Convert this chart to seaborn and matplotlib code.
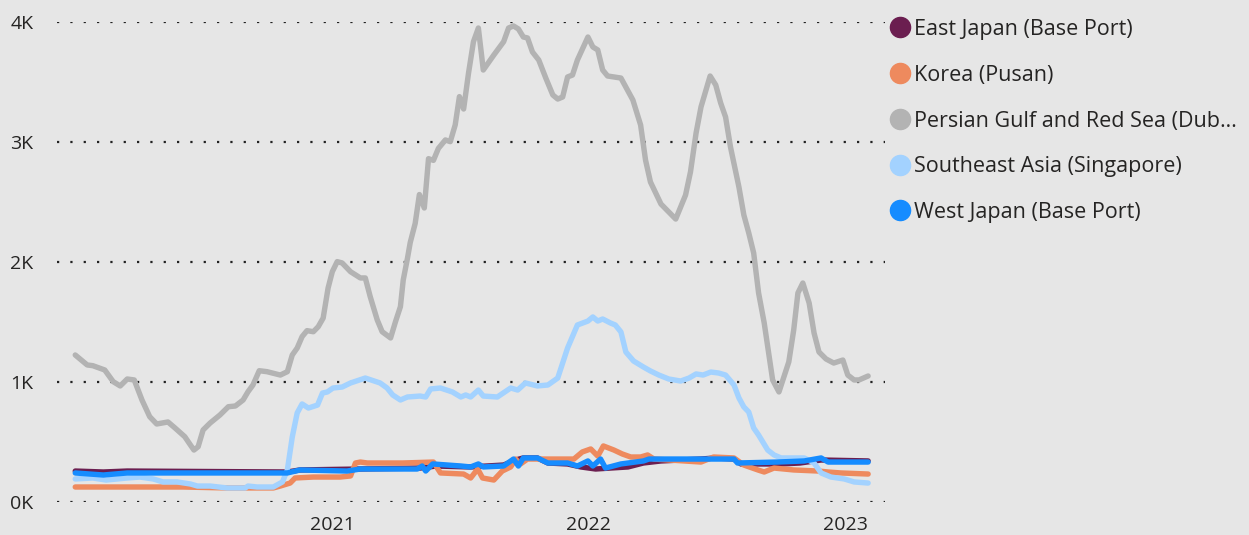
import pandas as pd
import numpy as np
import seaborn as sns
import matplotlib.pyplot as plt
from matplotlib.lines import Line2D
from matplotlib.ticker import FuncFormatter

# weekly bunker price (key points only)
east_japan_dates = ["2020-01-01", "2020-02-10", "2020-03-15", "2020-10-29", "2020-11-16", "2021-02-10",
                    "2021-05-06", "2021-05-29", "2021-07-17", "2021-09-02", "2021-09-19", "2021-09-30",
                    "2021-10-20", "2021-11-04", "2021-12-02", "2021-12-21", "2022-01-11", "2022-02-01",
                    "2022-02-26", "2022-03-20", "2022-04-14", "2022-06-10", "2022-07-01", "2022-07-27",
                    "2022-08-06", "2022-10-02", "2022-10-29", "2022-11-28", "2023-02-03"]
east_japan = [258, 250, 258, 250, 267, 275, 283, 300, 292, 308, 350, 367, 367, 325, 317, 292, 275, 283,
              292, 325, 342, 358, 367, 358, 317, 317, 325, 350, 342]

korea_dates = ["2020-01-01", "2020-06-02", "2020-08-04", "2020-10-09", "2020-10-19", "2020-11-02",
               "2020-11-09", "2020-12-05", "2021-01-12", "2021-01-27", "2021-02-03", "2021-02-10",
               "2021-02-20", "2021-04-11", "2021-05-25", "2021-06-04", "2021-07-07", "2021-07-17",
               "2021-07-27", "2021-08-03", "2021-08-19", "2021-08-31", "2021-09-12", "2021-09-19",
               "2021-09-26", "2021-10-06", "2021-12-11", "2021-12-23", "2022-01-04", "2022-01-14",
               "2022-01-22", "2022-02-06", "2022-02-18", "2022-03-02", "2022-03-16", "2022-03-26",
               "2022-04-04", "2022-06-10", "2022-06-28", "2022-07-27", "2022-08-10", "2022-08-30",
               "2022-09-08", "2022-09-22", "2022-10-20", "2022-11-24", "2022-12-08", "2022-12-26",
               "2023-02-03"]
korea = [125, 125, 117, 117, 133, 158, 200, 208, 208, 217, 325, 333, 325, 325, 333, 242, 233, 200,
         275, 200, 183, 258, 292, 358, 317, 358, 358, 417, 442, 383, 467, 433, 400, 375, 375, 392,
         358, 333, 375, 367, 308, 267, 250, 283, 267, 258, 250, 242, 233]

gulf_dates = ["2020-01-01", "2020-01-18", "2020-01-26", "2020-02-12", "2020-02-24", "2020-03-05",
              "2020-03-15", "2020-03-25", "2020-04-05", "2020-04-16", "2020-04-26", "2020-05-12",
              "2020-05-22", "2020-06-05", "2020-06-13", "2020-06-18", "2020-06-24", "2020-07-01",
              "2020-07-11", "2020-07-25", "2020-08-06", "2020-08-16", "2020-08-27", "2020-09-03",
              "2020-09-10", "2020-09-19", "2020-09-30", "2020-10-19", "2020-10-29", "2020-11-05",
              "2020-11-12", "2020-11-19", "2020-11-26", "2020-12-05", "2020-12-12", "2020-12-19",
              "2020-12-26", "2021-01-01", "2021-01-08", "2021-01-15", "2021-01-27", "2021-02-10",
              "2021-02-17", "2021-02-24", "2021-03-06", "2021-03-13", "2021-03-25", "2021-04-01",
              "2021-04-08", "2021-04-12", "2021-04-18", "2021-04-22", "2021-04-29", "2021-05-05",
              "2021-05-12", "2021-05-18", "2021-05-25", "2021-06-01", "2021-06-11", "2021-06-18",
              "2021-06-25", "2021-07-01", "2021-07-07", "2021-07-14", "2021-07-21", "2021-07-28",
              "2021-08-04", "2021-08-19", "2021-09-02", "2021-09-09", "2021-09-16", "2021-09-23",
              "2021-09-30", "2021-10-06", "2021-10-13", "2021-10-22", "2021-11-01", "2021-11-11",
              "2021-11-18", "2021-11-25", "2021-12-02", "2021-12-09", "2021-12-16", "2021-12-31",
              "2022-01-07", "2022-01-14", "2022-01-21", "2022-01-28", "2022-02-16", "2022-03-05",
              "2022-03-16", "2022-03-23", "2022-03-30", "2022-04-14", "2022-05-05", "2022-05-19",
              "2022-05-26", "2022-06-03", "2022-06-10", "2022-06-23", "2022-07-01", "2022-07-08",
              "2022-07-15", "2022-07-22", "2022-08-03", "2022-08-10", "2022-08-17", "2022-08-24",
              "2022-08-31", "2022-09-08", "2022-09-20", "2022-09-29", "2022-10-13", "2022-10-20",
              "2022-10-26", "2022-11-02", "2022-11-11", "2022-11-18", "2022-11-25", "2022-12-05",
              "2022-12-16", "2022-12-29", "2023-01-05", "2023-01-14", "2023-01-21", "2023-02-03"]
gulf = [1225, 1142, 1136, 1100, 1003, 967, 1025, 1017, 850, 711, 650, 667, 617, 544, 475, 433, 461, 600,
        658, 725, 794, 800, 850, 919, 975, 1094, 1086, 1058, 1086, 1225, 1283, 1378, 1428, 1419, 1461,
        1533, 1783, 1919, 2003, 1992, 1919, 1867, 1867, 1711, 1517, 1419, 1367, 1503, 1628, 1850, 2030,
        2163, 2321, 2562, 2450, 2861, 2847, 2946, 3017, 3003, 3142, 3378, 3275, 3575, 3836, 3950, 3600,
        3725, 3836, 3950, 3967, 3942, 3875, 3867, 3750, 3683, 3533, 3392, 3358, 3375, 3542, 3558, 3683,
        3875, 3792, 3767, 3600, 3550, 3533, 3350, 3142, 2850, 2667, 2483, 2358, 2558, 2750, 3075, 3292,
        3550, 3475, 3325, 3208, 2958, 2625, 2392, 2242, 2075, 1742, 1492, 1017, 917, 1167, 1433, 1742,
        1825, 1658, 1408, 1250, 1192, 1158, 1183, 1058, 1017, 1017, 1050]

sea_dates = ["2020-01-01", "2020-01-26", "2020-02-14", "2020-03-15", "2020-04-02", "2020-04-21",
             "2020-05-05", "2020-05-25", "2020-06-13", "2020-06-23", "2020-07-11", "2020-08-04",
             "2020-08-30", "2020-09-03", "2020-09-16", "2020-10-09", "2020-10-22", "2020-10-29",
             "2020-11-05", "2020-11-12", "2020-11-19", "2020-11-28", "2020-12-11", "2020-12-18",
             "2020-12-25", "2021-01-02", "2021-01-15", "2021-01-27", "2021-02-17", "2021-03-10",
             "2021-03-20", "2021-03-28", "2021-04-08", "2021-04-18", "2021-05-06", "2021-05-14",
             "2021-05-21", "2021-06-04", "2021-06-21", "2021-07-03", "2021-07-10", "2021-07-17",
             "2021-07-28", "2021-08-04", "2021-08-24", "2021-09-12", "2021-09-22", "2021-10-03",
             "2021-10-20", "2021-11-04", "2021-11-18", "2021-12-02", "2021-12-16", "2021-12-31",
             "2022-01-07", "2022-01-14", "2022-01-21", "2022-02-01", "2022-02-08", "2022-02-16",
             "2022-02-23", "2022-03-06", "2022-03-20", "2022-03-30", "2022-04-11", "2022-04-25",
             "2022-05-12", "2022-05-24", "2022-06-03", "2022-06-13", "2022-06-24", "2022-07-05",
             "2022-07-15", "2022-07-27", "2022-08-03", "2022-08-10", "2022-08-17", "2022-08-24",
             "2022-08-31", "2022-09-13", "2022-09-22", "2022-10-02", "2022-11-04", "2022-11-18",
             "2022-11-28", "2022-12-12", "2022-12-31", "2023-01-14", "2023-02-03"]
sea = [192, 200, 183, 200, 208, 192, 167, 167, 150, 133, 133, 117, 117, 133, 125, 125, 167, 267, 542,
       742, 817, 783, 808, 908, 917, 950, 958, 992, 1033, 992, 950, 892, 850, 875, 883, 875, 942, 950,
       917, 875, 892, 875, 933, 883, 875, 950, 933, 992, 967, 975, 1033, 1283, 1475, 1508, 1542, 1508,
       1525, 1492, 1475, 1417, 1250, 1175, 1125, 1092, 1058, 1025, 1008, 1033, 1067, 1058, 1083, 1075,
       1058, 975, 867, 792, 750, 617, 558, 433, 392, 367, 367, 325, 242, 208, 192, 167, 158]

west_japan_dates = ["2020-01-01", "2020-02-10", "2020-03-15", "2020-10-29", "2020-11-16", "2021-01-22",
                    "2021-02-10", "2021-05-02", "2021-05-09", "2021-05-14", "2021-05-24", "2021-07-03",
                    "2021-07-17", "2021-07-28", "2021-08-04", "2021-09-02", "2021-09-16", "2021-09-23",
                    "2021-09-30", "2021-10-20", "2021-11-04", "2021-12-02", "2021-12-16", "2021-12-31",
                    "2022-01-07", "2022-01-18", "2022-01-25", "2022-02-16", "2022-03-20", "2022-03-28",
                    "2022-07-27", "2022-08-01", "2022-09-27", "2022-11-04", "2022-11-28", "2022-12-08",
                    "2023-02-03"]
west_japan = [242, 225, 242, 242, 267, 258, 275, 275, 300, 258, 317, 300, 292, 317, 292, 300, 358, 300,
              367, 367, 325, 325, 300, 342, 300, 358, 283, 317, 342, 358, 358, 325, 333, 342, 367, 333, 333]

labels = ["East Japan (Base Port)", "Korea (Pusan)", "Persian Gulf and Red Sea (Dub\u2026",
          "Southeast Asia (Singapore)", "West Japan (Base Port)"]
colors = ["#6B1E50", "#EE8A5E", "#B3B3B3", "#A3D2FF", "#168CFF"]
year_ticks = ["2021-01-01", "2022-01-01", "2023-01-01"]
year_labels = ["2021", "2022", "2023"]

series = [(east_japan_dates, east_japan), (korea_dates, korea), (gulf_dates, gulf),
          (sea_dates, sea), (west_japan_dates, west_japan)]
frames = []
for lab, (d, v) in zip(labels, series):
    frames.append(pd.DataFrame({"date": pd.to_datetime(d), "price": v, "port": lab}))
df = pd.concat(frames, ignore_index=True)

bg = "#E6E6E6"
sns.set_style("white", {"axes.facecolor": bg, "figure.facecolor": bg})
plt.rcParams["font.family"] = ["Open Sans", "DejaVu Sans"]

fig = plt.figure(figsize=(12.49, 5.35), dpi=100)
ax = fig.add_axes([57 / 1249, 1 - 502 / 535, (885 - 57) / 1249, (502 - 22) / 535])

sns.lineplot(data=df, x="date", y="price", hue="port", hue_order=labels,
             palette=dict(zip(labels, colors)), linewidth=3.9, legend=False, ax=ax,
             solid_joinstyle="round", solid_capstyle="round")

ax.set_ylim(0, 4000)
ax.set_xlim(pd.Timestamp("2019-12-06"), pd.Timestamp("2023-02-27"))
ax.set_yticks([0, 1000, 2000, 3000, 4000])
ax.yaxis.set_major_formatter(FuncFormatter(lambda v, p: f"{int(v / 1000)}K"))
ax.set_xticks(pd.to_datetime(year_ticks))
ax.set_xticklabels(year_labels)
ax.grid(axis="y", color="#222222", linestyle=(0, (1, 5)), linewidth=1.6)
ax.grid(axis="x", visible=False)
ax.set_axisbelow(True)
for s in ax.spines.values():
    s.set_visible(False)
ax.tick_params(axis="both", length=0, labelsize=14, colors="#252423")
ax.tick_params(axis="y", pad=17)
ax.tick_params(axis="x", pad=10)
ax.set_xlabel("")
ax.set_ylabel("")

handles = [Line2D([], [], marker="o", linestyle="", markersize=14.5, color=c) for c in colors]
leg = fig.legend(handles, labels, loc="upper left", bbox_to_anchor=(888 / 1249, 1 - 19 / 535),
                 frameon=False, fontsize=15.5, handletextpad=0.05, labelspacing=1.15,
                 handlelength=1.15, borderaxespad=0, borderpad=0)
for t in leg.get_texts():
    t.set_color("#252423")

fig.savefig("out.png", dpi=100, facecolor=bg)
